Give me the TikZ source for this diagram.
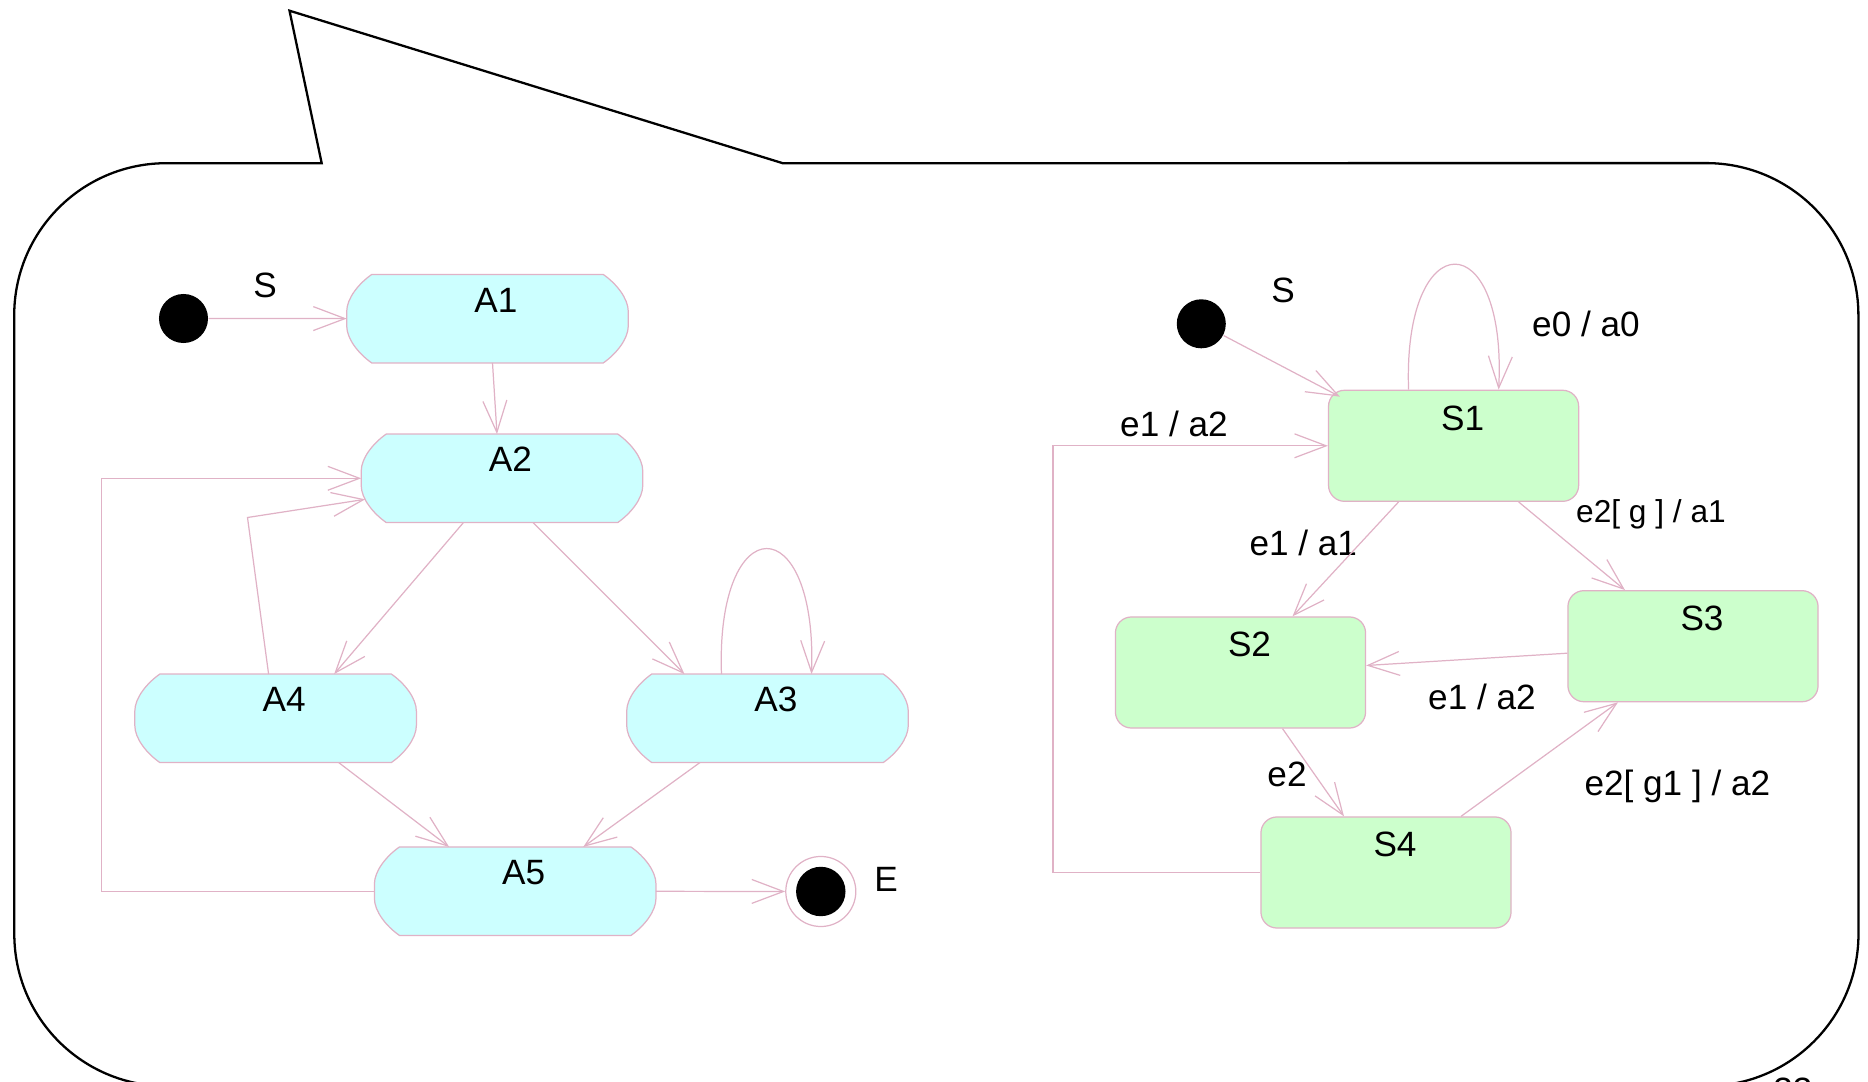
\documentclass[tikz,border=0pt]{standalone}
\usepackage{fontspec}
\setmainfont{Liberation Sans}
\usetikzlibrary{arrows.meta, backgrounds}
\definecolor{linkpink}{RGB}{224,178,198}
\definecolor{actcyan}{RGB}{204,255,255}
\definecolor{stategreen}{RGB}{204,255,204}

\begin{document}
\begin{tikzpicture}[x=0.01cm, y=-0.01cm,
        font=\fontsize{10pt}{12pt}\selectfont,
        >={Straight Barb[length=9pt, width=6.8pt]},
        link/.style={color=linkpink, line width=0.35pt},
        activity/.style={rectangle, inner sep=0pt, minimum width=2.8cm, minimum height=0.87cm,
            text height=0.37cm, text depth=0.5cm, execute at begin node={\hspace*{0.17cm}}},
        actbody/.style={fill=actcyan, draw=linkpink, line width=0.35pt},
        statebox/.style={rectangle, rounded corners=0.16cm, fill=stategreen, draw=linkpink,
            line width=0.35pt, inner sep=0pt, minimum width=2.5cm, minimum height=1.11cm,
            text height=0.4cm, text depth=0.71cm, execute at begin node={\hspace*{0.18cm}}},
        initdot/.style={circle, fill=black, minimum size=0.49cm, inner sep=0pt},
        finaldot/.style={circle, draw=linkpink, line width=0.35pt, minimum size=0.7cm, inner sep=0pt,
            path picture={\fill[black] (path picture bounding box.center) circle (0.247cm);}},
        tag/.style={anchor=base}]
        \useasboundingbox (0,0) rectangle (1868,1082);

        \draw[line width=0.65pt] (321.7,163.2) -- (166.3,163.2)
            arc[start angle=90, end angle=180, radius=1.52cm] -- (14.3,934)
            arc[start angle=180, end angle=270, radius=1.52cm] -- (1706.4,1086)
            arc[start angle=270, end angle=360, radius=1.52cm] -- (1858.4,315.2)
            arc[start angle=0, end angle=90, radius=1.52cm] -- (782.7,163.2)
            -- (289.5,10.7) -- cycle;

        \node[initdot] (ini1) at (183.5,318.5) {};
        \node[tag] (sl) at (265,298) {S};
        \node[activity] (a1) at (487.5,318.7) {A1};
        \node[activity] (a2) at (502,478.3) {A2};
        \node[activity] (a4) at (275.6,718.3) {A4};
        \node[activity] (a3) at (767.5,718.3) {A3};
        \node[activity] (a5) at (515.2,891.2) {A5};
        \node[finaldot] (fin) at (820.8,891.5) {};
        \node[tag] (el) at (886,891.7) {E};

        \node[initdot] (ini2) at (1201.3,323.8) {};
        \node[tag] (sr) at (1283,303) {S};
        \node[statebox] (s1) at (1453.6,445.8) {S1};
        \node[statebox] (s2) at (1240.5,672.5) {S2};
        \node[statebox] (s3) at (1693,646.2) {S3};
        \node[statebox] (s4) at (1386,872.5) {S4};

        \node[tag] (t0) at (1586,336.7) {e0 / a0};
        \node[tag] (t1) at (1174,436.7) {e1 / a2};
        \node[tag] (t2) at (1303.3,556) {e1 / a1};
        \node[tag, font=\fontsize{9pt}{11pt}\selectfont] (t3) at (1651,523) {e2[ g ] / a1};
        \node[tag] (t4) at (1482,710) {e1 / a2};
        \node[tag] (t5) at (1287,787) {e2};
        \node[tag] (t6) at (1677.4,796) {e2[ g1 ] / a2};
        \node[tag] (pg) at (1793,1103) {33};

        \begin{scope}[on background layer]
            \foreach \n in {a1,a2,a3,a4,a5}
                \path[actbody] ([xshift=0.25cm]\n.north west) -- ([xshift=-0.25cm]\n.north east)
                    .. controls ([xshift=-0.12cm,yshift=-0.09cm]\n.north east) and ([yshift=-0.24cm]\n.north east) .. ([yshift=-0.37cm]\n.north east)
                    -- ([yshift=0.37cm]\n.south east)
                    .. controls ([yshift=0.24cm]\n.south east) and ([xshift=-0.12cm,yshift=0.09cm]\n.south east) .. ([xshift=-0.25cm]\n.south east)
                    -- ([xshift=0.25cm]\n.south west)
                    .. controls ([xshift=0.12cm,yshift=0.09cm]\n.south west) and ([yshift=0.24cm]\n.south west) .. ([yshift=0.37cm]\n.south west)
                    -- ([yshift=-0.37cm]\n.north west)
                    .. controls ([yshift=-0.24cm]\n.north west) and ([xshift=0.12cm,yshift=-0.09cm]\n.north west) .. ([xshift=0.25cm]\n.north west)
                    -- cycle;
        \end{scope}

        \coordinate (kink) at (247.5,517.5);
        \coordinate (back1) at (101.5,700);
        \coordinate (back2) at (1053,650);

        \path[->, link]
        (ini1) edge (a1)
        ([xshift=0.05cm]a1.south) edge ([xshift=-0.05cm]a2.north)
        ([xshift=-0.385cm]a2.south) edge ([xshift=0.585cm]a4.north)
        ([xshift=0.31cm]a2.south) edge ([xshift=-0.83cm]a3.north)
        ([xshift=-0.46cm]a3.north) edge [out=92, in=88, distance=1.67cm] ([xshift=0.44cm]a3.north)
        ([xshift=0.63cm]a4.south) edge ([xshift=-0.66cm]a5.north)
        ([xshift=-0.675cm]a3.south) edge ([xshift=0.68cm]a5.north)
        (a5) edge (fin)
        (ini2) edge ([xshift=0.12cm,yshift=-0.07cm]s1.north west)
        ([xshift=-0.45cm]s1.north) edge [out=92, in=87, distance=1.67cm] ([xshift=0.45cm]s1.north)
        ([xshift=-0.55cm]s1.south) edge ([xshift=0.52cm]s2.north)
        ([xshift=0.65cm]s1.south) edge ([xshift=-0.68cm]s3.north)
        ([yshift=-0.07cm]s3.west) edge ([yshift=0.07cm]s2.east)
        ([xshift=0.42cm]s2.south) edge ([xshift=-0.42cm]s4.north)
        ([xshift=0.75cm]s4.north) edge ([xshift=-0.75cm]s3.south)
        ;

        \draw[->, link] ([xshift=-0.07cm]a4.north) -- (kink) -- ([xshift=0.04cm,yshift=-0.21cm]a2.west);
        \draw[->, link] (a5.west) -| (back1) |- (a2.west);
        \draw[->, link] (s4.west) -| (back2) |- (s1.west);
    \end{tikzpicture}
\end{document}
